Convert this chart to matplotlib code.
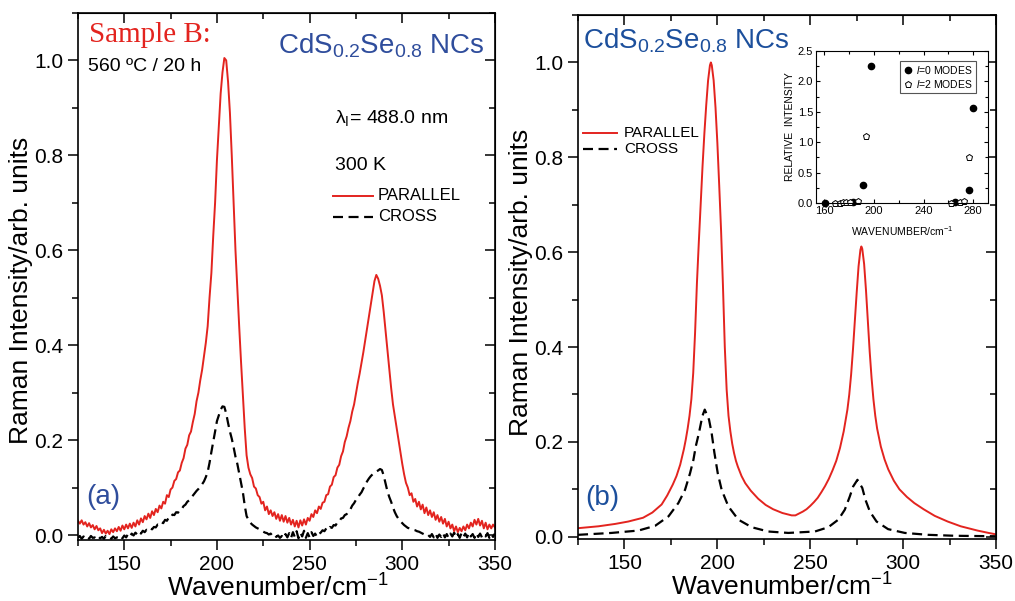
import numpy as np
import matplotlib.pyplot as plt
from matplotlib.ticker import MultipleLocator

plt.rcParams['font.family'] = ['Liberation Sans', 'DejaVu Sans']
plt.rcParams['mathtext.fontset'] = 'custom'
plt.rcParams['mathtext.rm'] = 'Liberation Sans'
plt.rcParams['mathtext.it'] = 'Liberation Sans:italic'
plt.rcParams['mathtext.bf'] = 'Liberation Sans:bold'

RED = '#e3241f'
BLUE_A = '#2f4d9c'
BLUE_B = '#1c4f9c'

# (a) measured spectra, read every 1 cm-1 from 125 to 350
wn_a = np.arange(125, 351)
parallel_a = [
    0.030, 0.024, 0.031, 0.022, 0.027, 0.018, 0.025, 0.016, 0.021, 0.012,
    0.019, 0.010, 0.014, 0.004, 0.011, 0.003, 0.009, 0.002, 0.012, 0.006,
    0.014, 0.008, 0.017, 0.009, 0.020, 0.012, 0.022, 0.014, 0.024, 0.015,
    0.026, 0.018, 0.031, 0.022, 0.035, 0.027, 0.040, 0.033, 0.045, 0.036,
    0.050, 0.042, 0.055, 0.048, 0.062, 0.056, 0.070, 0.066, 0.084, 0.080,
    0.096, 0.100, 0.114, 0.118, 0.132, 0.136, 0.152, 0.162, 0.182, 0.190,
    0.210, 0.218, 0.238, 0.255, 0.282, 0.300, 0.326, 0.348, 0.377, 0.405,
    0.440, 0.500, 0.552, 0.630, 0.700, 0.790, 0.860, 0.930, 0.975, 1.005,
    1.000, 0.955, 0.890, 0.800, 0.700, 0.600, 0.520, 0.440, 0.365, 0.295,
    0.225, 0.168, 0.142, 0.128, 0.120, 0.102, 0.098, 0.084, 0.080, 0.066,
    0.070, 0.052, 0.060, 0.044, 0.052, 0.040, 0.048, 0.034, 0.044, 0.030,
    0.042, 0.028, 0.040, 0.026, 0.036, 0.022, 0.032, 0.018, 0.030, 0.016,
    0.031, 0.020, 0.033, 0.022, 0.036, 0.030, 0.044, 0.038, 0.052, 0.046,
    0.060, 0.055, 0.068, 0.070, 0.084, 0.086, 0.102, 0.106, 0.122, 0.126,
    0.142, 0.148, 0.166, 0.176, 0.196, 0.208, 0.226, 0.240, 0.260, 0.275,
    0.298, 0.320, 0.340, 0.362, 0.385, 0.410, 0.435, 0.460, 0.485, 0.510,
    0.535, 0.548, 0.540, 0.525, 0.505, 0.470, 0.430, 0.390, 0.350, 0.310,
    0.275, 0.250, 0.225, 0.200, 0.175, 0.150, 0.128, 0.110, 0.100, 0.084,
    0.088, 0.070, 0.076, 0.060, 0.070, 0.054, 0.064, 0.046, 0.058, 0.042,
    0.052, 0.038, 0.048, 0.032, 0.042, 0.028, 0.038, 0.024, 0.034, 0.018,
    0.028, 0.014, 0.022, 0.008, 0.018, 0.006, 0.015, 0.008, 0.018, 0.010,
    0.022, 0.014, 0.026, 0.018, 0.032, 0.022, 0.034, 0.020, 0.030, 0.014,
    0.026, 0.012, 0.022, 0.014, 0.022, 0.016,
]
cross_a = [
    -0.006, -0.002, -0.008, -0.003, -0.007, -0.004, -0.008, -0.002, -0.006, -0.005,
    -0.008, -0.003, -0.007, -0.004, -0.008, -0.002, -0.006, -0.005, -0.008, -0.003,
    -0.007, -0.005, -0.006, -0.002, -0.007, -0.001, -0.005, 0.002, -0.003, 0.003,
    -0.001, 0.005, 0.001, 0.007, 0.003, 0.009, 0.006, 0.011, 0.009, 0.014,
    0.012, 0.017, 0.016, 0.022, 0.021, 0.027, 0.025, 0.032, 0.030, 0.037,
    0.036, 0.043, 0.042, 0.048, 0.047, 0.054, 0.055, 0.061, 0.064, 0.070,
    0.073, 0.078, 0.083, 0.088, 0.093, 0.097, 0.102, 0.107, 0.113, 0.122,
    0.133, 0.152, 0.175, 0.196, 0.218, 0.240, 0.252, 0.264, 0.271, 0.270,
    0.256, 0.236, 0.218, 0.203, 0.185, 0.165, 0.150, 0.130, 0.110, 0.090,
    0.062, 0.040, 0.032, 0.026, 0.022, 0.019, 0.016, 0.014, 0.012, 0.009,
    0.007, 0.005, 0.004, 0.001, 0.003, -0.002, 0.001, -0.004, -0.001, -0.006,
    -0.002, -0.007, 0.002, -0.005, 0.004, -0.006, 0.006, -0.004, 0.008, -0.007,
    0.005, -0.003, 0.009, -0.006, 0.004, -0.005, 0.006, -0.002, 0.003, -0.004,
    0.002, 0.005, 0.010, 0.008, 0.014, 0.011, 0.017, 0.015, 0.021, 0.020,
    0.027, 0.028, 0.035, 0.036, 0.042, 0.044, 0.050, 0.054, 0.062, 0.067,
    0.074, 0.078, 0.085, 0.090, 0.098, 0.105, 0.113, 0.119, 0.124, 0.128,
    0.131, 0.134, 0.136, 0.139, 0.137, 0.125, 0.108, 0.092, 0.080, 0.070,
    0.058, 0.048, 0.040, 0.034, 0.029, 0.025, 0.021, 0.018, 0.015, 0.014,
    0.012, 0.011, 0.010, 0.008, 0.007, 0.005, 0.003, 0.001, -0.002, 0.000,
    -0.004, 0.002, -0.005, 0.003, -0.006, 0.001, -0.004, 0.004, -0.005, 0.002,
    -0.006, 0.003, -0.003, 0.005, -0.005, 0.002, -0.006, 0.004, -0.004, 0.003,
    -0.005, 0.005, -0.003, 0.002, -0.006, 0.004, -0.004, 0.003, -0.005, 0.001,
    -0.003, 0.004, -0.006, 0.002, -0.004, 0.003,
]

# (b) calculated spectra
wn_par_b = [125, 136, 145, 152, 160, 165, 170, 173, 176, 178, 180, 182, 183,
            184, 185, 186, 187, 188, 189, 190, 191, 192, 193, 194, 195, 196,
            196.5, 197, 198, 199, 200, 201, 202, 203, 204, 205, 206, 207, 208,
            209, 210, 211, 213, 215, 218, 222, 226, 230, 235, 240, 242, 244,
            246, 248, 250, 252, 254, 256, 258, 260, 262, 264, 266, 268, 270,
            271, 272, 273, 274, 275, 276, 277, 277.5, 278, 279, 280, 281, 282,
            283, 284, 285, 286, 288, 290, 292, 295, 298, 302, 306, 311, 317,
            324, 331, 340, 346, 350]
parallel_b = [0.018, 0.022, 0.027, 0.032, 0.040, 0.051, 0.068, 0.087, 0.110,
              0.128, 0.152, 0.185, 0.205, 0.228, 0.255, 0.290, 0.345, 0.430,
              0.535, 0.620, 0.700, 0.780, 0.850, 0.910, 0.962, 0.994, 1.000,
              0.994, 0.962, 0.905, 0.830, 0.740, 0.645, 0.530, 0.400, 0.310,
              0.255, 0.222, 0.196, 0.176, 0.160, 0.148, 0.128, 0.113, 0.097,
              0.080, 0.067, 0.058, 0.050, 0.045, 0.045, 0.049, 0.053, 0.058,
              0.065, 0.073, 0.082, 0.094, 0.107, 0.122, 0.140, 0.160, 0.187,
              0.222, 0.268, 0.300, 0.342, 0.395, 0.455, 0.515, 0.570, 0.605,
              0.612, 0.607, 0.575, 0.520, 0.455, 0.390, 0.335, 0.290, 0.255,
              0.228, 0.190, 0.163, 0.142, 0.118, 0.100, 0.084, 0.071, 0.058,
              0.044, 0.032, 0.022, 0.013, 0.008, 0.005]
wn_cross_b = [125, 143, 157.5, 166.5, 173.7, 179, 182.6, 185.3, 187.1, 188.4,
              190.1, 191.9, 193.2, 195.5, 196.9, 198.4, 200.2, 202.3, 205.9,
              211.3, 218.5, 227.4, 238.2, 252.5, 259.7, 265.1, 268.6, 271.3,
              273.1, 275.4, 278, 279.7, 282.1, 285.7, 291.9, 300.9, 313.4,
              327.8, 350]
cross_b = [0.004, 0.008, 0.013, 0.023, 0.043, 0.071, 0.099, 0.134, 0.162,
           0.191, 0.219, 0.254, 0.268, 0.247, 0.219, 0.177, 0.134, 0.099,
           0.064, 0.036, 0.020, 0.011, 0.008, 0.011, 0.020, 0.036, 0.057,
           0.085, 0.106, 0.120, 0.103, 0.078, 0.053, 0.032, 0.016, 0.008,
           0.004, 0.002, 0.001]

# inset: relative intensities of l=0 and l=2 modes
l0_wn = [160.5, 183.5, 191.5, 197.5, 265.5, 276.5, 279.5]
l0_int = [0.0, 0.01, 0.30, 2.25, 0.01, 0.21, 1.56]
l2_wn = [169, 173, 175.5, 178, 180.5, 187.5, 193.5, 262.5, 269.5, 272.5, 277]
l2_int = [0.0, 0.0, 0.01, 0.01, 0.02, 0.03, 1.10, 0.0, 0.02, 0.03, 0.75]


def style_main(ax, ylo):
    ax.set_xlim(125, 350)
    ax.set_ylim(ylo, 1.10)
    ax.xaxis.set_major_locator(MultipleLocator(50))
    ax.xaxis.set_minor_locator(MultipleLocator(25))
    ax.yaxis.set_major_locator(MultipleLocator(0.2))
    ax.yaxis.set_minor_locator(MultipleLocator(0.1))
    ax.tick_params(which='both', direction='out', labelsize=15, width=1.1)
    ax.tick_params(which='major', length=7)
    ax.tick_params(which='minor', length=4)
    for s in ax.spines.values():
        s.set_linewidth(1.2)
    # mirrored ticks on top and right, pointing in
    top = ax.secondary_xaxis('top')
    right = ax.secondary_yaxis('right')
    for sec in (top, right):
        sec.tick_params(which='both', direction='in', width=1.1)
        sec.tick_params(which='major', length=7)
        sec.tick_params(which='minor', length=4)
    top.xaxis.set_major_locator(MultipleLocator(50))
    top.xaxis.set_minor_locator(MultipleLocator(25))
    right.yaxis.set_major_locator(MultipleLocator(0.2))
    right.yaxis.set_minor_locator(MultipleLocator(0.1))
    top.tick_params(labeltop=False)
    right.tick_params(labelright=False)
    ax.set_xlabel('Wavenumber/cm$^{-1}$', fontsize=19)
    ax.set_ylabel('Raman Intensity/arb. units', fontsize=19)


fig = plt.figure(figsize=(10.15, 6.01), dpi=100)
ax1 = fig.add_axes([0.0768, 0.1015, 0.4108, 0.877])
ax2 = fig.add_axes([0.5695, 0.103, 0.4118, 0.872])

# panel (a)
ax1.plot(wn_a, cross_a, color='black', lw=1.6, dashes=(4.5, 2.5))
ax1.plot(wn_a, parallel_a, color=RED, lw=1.4)
style_main(ax1, -0.0105)
ax1.xaxis.set_label_coords(0.48, -0.066)
ax1.yaxis.set_label_coords(-0.108, 0.474)

ax1.text(0.026, 0.958, 'Sample B:', transform=ax1.transAxes, color=RED,
         family='Liberation Serif', fontsize=21, va='center')
ax1.text(0.024, 0.899, '560 ºC / 20 h', transform=ax1.transAxes,
         fontsize=14, va='center')
ax1.text(0.976, 0.9235, 'CdS$_{0.2}$Se$_{0.8}$ NCs', transform=ax1.transAxes,
         color=BLUE_A, fontsize=20, ha='right', va='baseline')
ax1.text(0.616, 0.791, 'λ$_{\\mathrm{I}}$= 488.0 nm', transform=ax1.transAxes,
         fontsize=14, va='baseline')
ax1.text(0.616, 0.702, '300 K', transform=ax1.transAxes, fontsize=14,
         va='baseline')
ax1.plot([0.6115, 0.7074], [0.6528, 0.6528], transform=ax1.transAxes,
         color=RED, lw=1.4)
ax1.plot([0.6115, 0.7074], [0.6129, 0.6129], transform=ax1.transAxes,
         color='black', lw=1.6, dashes=(4.5, 2.5))
ax1.text(0.7194, 0.6528, 'PARALLEL', transform=ax1.transAxes, fontsize=12,
         va='center')
ax1.text(0.7194, 0.6129, 'CROSS', transform=ax1.transAxes, fontsize=12,
         va='center')
ax1.text(0.019, 0.0816, '(a)', transform=ax1.transAxes, color=BLUE_A,
         fontsize=20, va='center')

# panel (b)
ax2.plot(wn_cross_b, cross_b, color='black', lw=1.6, dashes=(4.5, 2.5))
ax2.plot(wn_par_b, parallel_b, color=RED, lw=1.4)
style_main(ax2, -0.005)
ax2.xaxis.set_label_coords(0.488, -0.066)
ax2.yaxis.set_label_coords(-0.108, 0.49)

ax2.text(0.012, 0.9364, 'CdS$_{0.2}$Se$_{0.8}$ NCs', transform=ax2.transAxes,
         color=BLUE_B, fontsize=20, va='baseline')
ax2.plot([0.012, 0.0933], [0.7748, 0.7748], transform=ax2.transAxes,
         color=RED, lw=1.4)
ax2.plot([0.012, 0.0933], [0.7443, 0.7443], transform=ax2.transAxes,
         color='black', lw=1.6, dashes=(4.5, 2.5))
ax2.text(0.110, 0.7748, 'PARALLEL', transform=ax2.transAxes, fontsize=11,
         va='center')
ax2.text(0.110, 0.7443, 'CROSS', transform=ax2.transAxes, fontsize=11,
         va='center')
ax2.text(0.0167, 0.078, '(b)', transform=ax2.transAxes, color=BLUE_B,
         fontsize=20, va='center')

# inset
axi = fig.add_axes([0.804, 0.6622, 0.1695, 0.2529])
axi.plot(l0_wn, l0_int, 'o', color='black', ms=4.5, clip_on=False,
         label='$\\it{l}$=0 MODES')
axi.plot(l2_wn, l2_int, 'p', mfc='white', mec='black', mew=0.7, ms=5,
         clip_on=False, label='$\\it{l}$=2 MODES')
axi.set_xlim(153.5, 292)
axi.set_ylim(0, 2.5)
axi.xaxis.set_major_locator(MultipleLocator(40))
axi.xaxis.set_minor_locator(MultipleLocator(20))
axi.yaxis.set_major_locator(MultipleLocator(0.5))
axi.yaxis.set_minor_locator(MultipleLocator(0.25))
axi.yaxis.set_major_formatter('{x:.1f}')
axi.tick_params(which='both', direction='in', top=True, right=True,
                labelsize=8, width=0.8, pad=2)
axi.tick_params(which='major', length=3)
axi.tick_params(which='minor', length=2)
for s in axi.spines.values():
    s.set_linewidth(0.8)
axi.set_xlabel('WAVENUMBER/cm$^{-1}$', fontsize=7.5, labelpad=6)
axi.set_ylabel('RELATIVE  INTENSITY', fontsize=7.5, labelpad=2)
leg = axi.legend(loc='upper right', bbox_to_anchor=(0.96, 0.97), fontsize=7.5,
                 handlelength=1, handletextpad=0.3, borderpad=0.3,
                 labelspacing=0.2, fancybox=False, framealpha=1)
leg.get_frame().set_edgecolor('#555555')
leg.get_frame().set_linewidth(0.8)

fig.savefig('out.png', dpi=100)
